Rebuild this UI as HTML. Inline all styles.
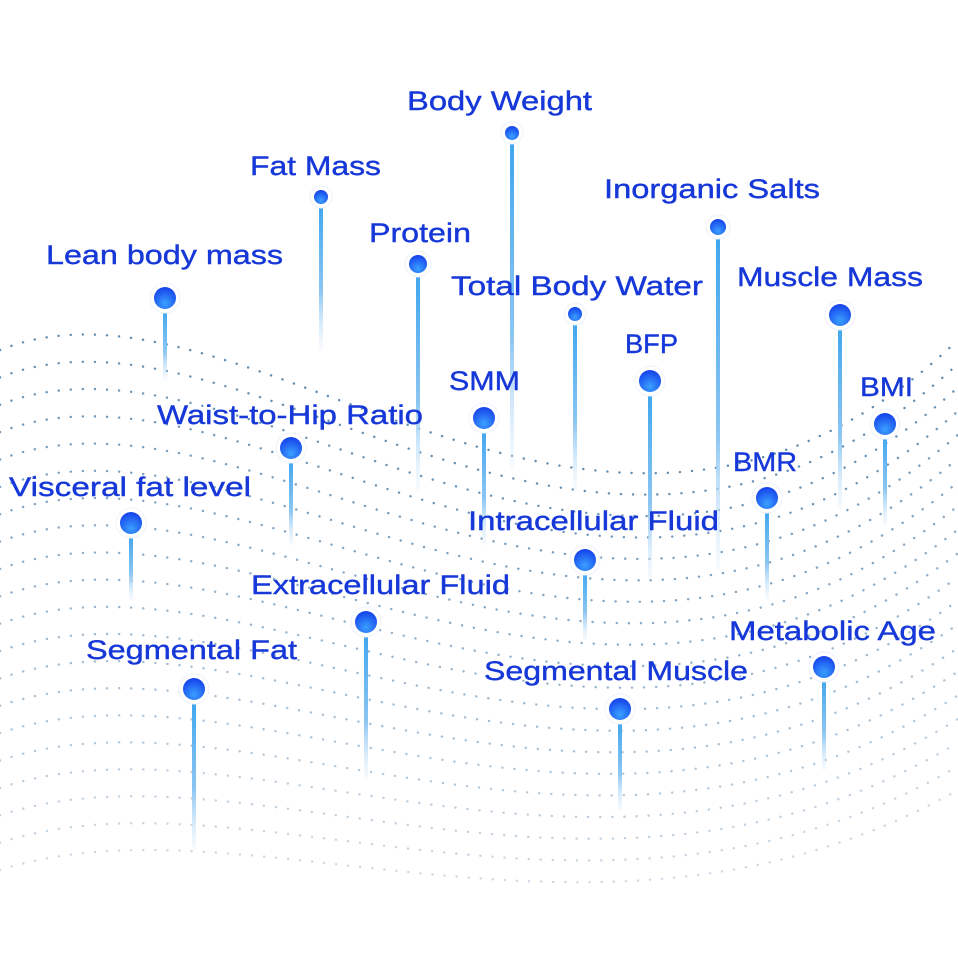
<!DOCTYPE html>
<html><head><meta charset="utf-8"><style>
html,body{margin:0;padding:0;background:#fff;width:958px;height:958px;overflow:hidden}
svg{display:block}
text{font-family:"Liberation Sans",sans-serif;font-size:27px;fill:#1638d8;stroke:#1638d8;stroke-width:0.4}
</style></head><body>
<svg id="s" width="958" height="958" viewBox="0 0 958 958">
<defs>
<linearGradient id="st" x1="0" y1="0" x2="0" y2="1">
<stop offset="0" stop-color="#3fa6ee"/><stop offset="0.6" stop-color="#8cc6f2"/><stop offset="1" stop-color="#e6f1fc" stop-opacity="0.3"/>
</linearGradient>
<radialGradient id="b" cx="0.5" cy="0.75" r="0.7">
<stop offset="0" stop-color="#3aa0ff"/><stop offset="1" stop-color="#1746ec"/>
</radialGradient>
</defs>
<g id="waves" fill="none" stroke-linecap="round"></g>
<g id="pins"></g>
</svg>
<script>
var W=document.getElementById('waves'),N=20,ns='http://www.w3.org/2000/svg';
for(var i=0;i<N;i++){var t=i/(N-1);
function L(a,b){return a+(b-a)*t}
var y0=L(350,870),y1=L(250,790),y2=L(680,990),y3=L(340,790);
var p=document.createElementNS(ns,'path');
p.setAttribute('d','M0,'+y0+' C250,'+y1+' 600,'+y2+' 958,'+y3);
p.setAttribute('stroke','#4f7fa8');p.setAttribute('stroke-width','2.4');
p.setAttribute('stroke-dasharray','0.1 12');p.setAttribute('opacity',(0.9-0.6*t).toFixed(2));
W.appendChild(p);}
var P=[
["Body Weight",407,592,100,512,133,7,470],
["Fat Mass",250,381,165,321,197,7,350],
["Protein",369,471,232,418,264,9,490],
["Lean body mass",46,283,254,165,298,11,380],
["Inorganic Salts",604,820,188,718,227,8,570],
["Total Body Water",451,703,285,575,314,7,490],
["Muscle Mass",737,923,276,840,315,11,510],
["BFP",625,678,343,650,381,11,580],
["SMM",449,520,380,484,418,11,545],
["BMI",860,913,386,885,424,11,525],
["Waist-to-Hip Ratio",157,423,414,291,448,11,545],
["BMR",733,797,461,767,498,11,600],
["Visceral fat level",9,251,486,131,523,11,600],
["Intracellular Fluid",468,719,520,585,560,11,640],
["Extracellular Fluid",251,510,584,366,622,11,780],
["Metabolic Age",729,936,630,824,667,11,770],
["Segmental Fat",86,297,649,194,689,11,850],
["Segmental Muscle",484,748,670,620,709,11,810]];
var G=document.getElementById('pins'),h='';
P.forEach(function(q){
h+='<rect x="'+(q[4]-2)+'" y="'+(q[5]+q[6])+'" width="4" height="'+(q[7]-q[5]-q[6])+'" fill="url(#st)"/>';
h+='<circle cx="'+q[4]+'" cy="'+q[5]+'" r="'+(q[6]+4)+'" fill="#fff" stroke="#eef2fb" stroke-width="1"/>';
h+='<circle cx="'+q[4]+'" cy="'+q[5]+'" r="'+q[6]+'" fill="url(#b)"/>';
h+='<text x="'+q[1]+'" y="'+(q[3]+10)+'" textLength="'+(q[2]-q[1])+'" lengthAdjust="spacingAndGlyphs">'+q[0]+'</text>';
});
G.innerHTML=h;
</script>
</body></html>
